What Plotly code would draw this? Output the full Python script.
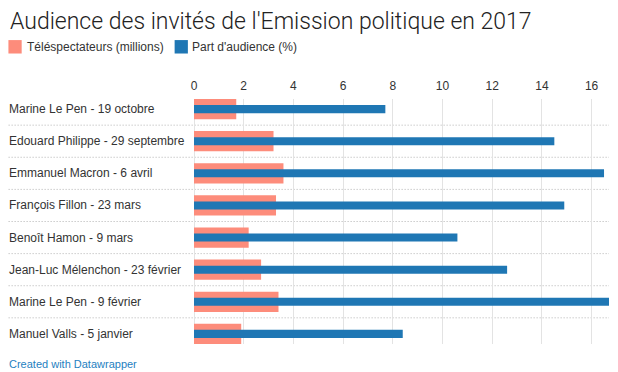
import plotly.graph_objects as go

categories = [
    "Marine Le Pen - 19 octobre",
    "Edouard Philippe - 29 septembre",
    "Emmanuel Macron - 6 avril",
    "François Fillon - 23 mars",
    "Benoît Hamon - 9 mars",
    "Jean-Luc Mélenchon - 23 février",
    "Marine Le Pen - 9 février",
    "Manuel Valls - 5 janvier",
]
telespectateurs = [1.7, 3.2, 3.6, 3.3, 2.2, 2.7, 3.4, 1.9]
part_audience = [7.7, 14.5, 16.5, 14.9, 10.6, 12.6, 16.7, 8.4]
series_names = ["Téléspectateurs (millions)", "Part d'audience (%)"]
tick_values = [0, 2, 4, 6, 8, 10, 12, 14, 16]

SALMON = "#fd8c7b"
BLUE = "#1f77b4"
FONT = "Liberation Sans, Arial, Helvetica, sans-serif"

# the page adds an 8px body margin, so the figure is drawn 8px smaller
OFF = 8
W, H = 618 - OFF, 372 - OFF
# target pixel positions (in the 618x372 window)
PLOT_L, PLOT_R, PLOT_T, PLOT_B = 194, 601, 99, 336
ML, MR, MT, MB = PLOT_L - OFF, 618 - PLOT_R - OFF, PLOT_T - OFF, 372 - PLOT_B - OFF
PW = PLOT_R - PLOT_L
PH = PLOT_B - PLOT_T


def px_x(px):
    return (px - PLOT_L) / PW


def px_y(py):
    return (PLOT_B - py) / PH


fig = go.Figure()
fig.add_trace(go.Bar(
    y=categories, x=telespectateurs, orientation="h", name=series_names[0],
    marker=dict(color=SALMON, line=dict(width=0)), width=0.63, showlegend=False,
    hoverinfo="x+y",
))
fig.add_trace(go.Bar(
    y=categories, x=part_audience, orientation="h", name=series_names[1],
    marker=dict(color=BLUE, line=dict(width=0)), width=0.25, showlegend=False,
    hoverinfo="x+y",
))

shapes = []
# dotted separators between rows
for i in range(len(categories) - 1):
    shapes.append(dict(
        type="line", xref="paper", yref="y",
        x0=px_x(12), x1=px_x(601), y0=i + 0.5, y1=i + 0.5,
        line=dict(color="#cccccc", width=1, dash="1.5px,1.5px"), layer="below",
    ))

annotations = []
for c in categories:
    annotations.append(dict(
        text=c, xref="paper", yref="y", x=px_x(11), y=c,
        xanchor="left", yanchor="middle", showarrow=False,
        font=dict(family=FONT, size=12, color="#333333"),
    ))

# manual legend
legend_items = [(series_names[0], SALMON, 12, 29), (series_names[1], BLUE, 175, 191)]
for name, col, sx, tx in legend_items:
    shapes.append(dict(
        type="rect", xref="paper", yref="paper",
        x0=px_x(sx), x1=px_x(sx + 13), y0=px_y(42), y1=px_y(55),
        fillcolor=col, line=dict(width=0),
    ))
    annotations.append(dict(
        text=name, xref="paper", yref="paper", x=px_x(tx - 1), y=px_y(48.5),
        xanchor="left", yanchor="middle", showarrow=False,
        font=dict(family=FONT, size=12, color="#333333"),
    ))

annotations.append(dict(
    text="Created with Datawrapper", xref="paper", yref="paper",
    x=px_x(11), y=px_y(355), xanchor="left", yanchor="middle", showarrow=False,
    font=dict(family=FONT, size=11, color="#1f7fc1"),
))

n = len(categories)
fig.update_layout(
    width=W, height=H,
    margin=dict(l=ML, r=MR, t=MT, b=MB, pad=0),
    paper_bgcolor="white", plot_bgcolor="white",
    barmode="overlay",
    title=dict(
        text="Audience des invités de l'Emission politique en 2017",
        xref="container", yref="container", x=(10 - OFF) / W, y=1 - (21 - OFF) / H,
        xanchor="left", yanchor="middle",
        font=dict(family="Roboto, " + FONT, size=23, color="#222222", weight=300),
    ),
    xaxis=dict(
        side="top", range=[0, max(part_audience)], tickvals=tick_values,
        showgrid=True, gridcolor="#e3e3e3", gridwidth=1,
        zeroline=True, zerolinecolor="#e3e3e3", zerolinewidth=1,
        showline=False, ticks="", ticklabelstandoff=6,
        tickfont=dict(family=FONT, size=12, color="#333333"),
        fixedrange=True,
    ),
    yaxis=dict(
        type="category", categoryorder="array", categoryarray=categories,
        range=[n - 1 + 0.315, -0.315], showticklabels=False, showgrid=False,
        zeroline=False, showline=False, ticks="", fixedrange=True,
    ),
    shapes=shapes, annotations=annotations, showlegend=False,
)

fig.write_html("out.html")
